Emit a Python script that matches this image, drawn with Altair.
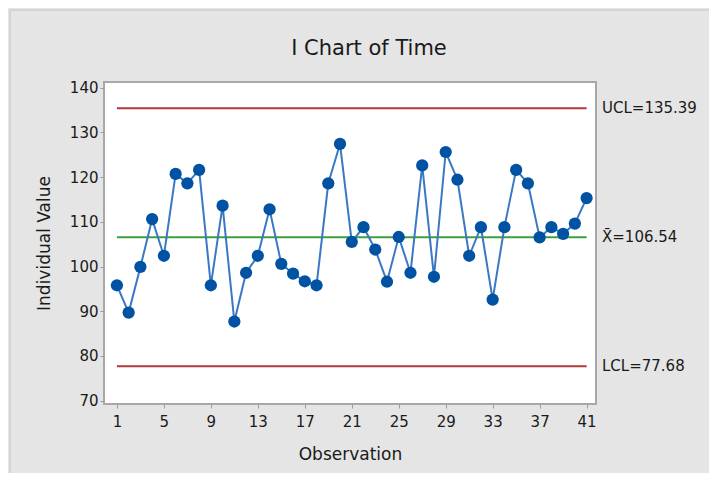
import altair as alt
import pandas as pd

observation = list(range(1, 42))
values = [95.8, 89.7, 99.9, 110.6, 102.4, 120.7, 118.6, 121.6, 95.8, 113.6,
          87.7, 98.6, 102.4, 112.8, 100.6, 98.4, 96.7, 95.8, 118.6, 127.4,
          105.5, 108.8, 103.8, 96.6, 106.6, 98.6, 122.6, 97.7, 125.6, 119.4,
          102.4, 108.8, 92.6, 108.8, 121.6, 118.6, 106.5, 108.8, 107.3, 109.6,
          115.3]
limit_values = [135.39, 106.54, 77.68]
limit_labels = ["UCL=135.39", "X\u0304=106.54", "LCL=77.68"]
limit_colors = ["#b03a3a", "#3ca03c", "#b03a3a"]
x_ticks = [1, 5, 9, 13, 17, 21, 25, 29, 33, 37, 41]
y_ticks = [70, 80, 90, 100, 110, 120, 130, 140]
title_text = "I Chart of Time"

df = pd.DataFrame({"obs": observation, "value": values})
lim = pd.DataFrame({"value": limit_values, "label": limit_labels,
                    "color": limit_colors, "x1": [1] * 3, "x2": [41] * 3})

FONT = "DejaVu Sans"
TXT = "#1a1a1a"

xscale = alt.Scale(domain=[-0.1, 41.8], nice=False, zero=False)
yscale = alt.Scale(domain=[69.26, 141.25], nice=False, zero=False)

xaxis = alt.Axis(values=x_ticks, title="Observation", grid=False, domain=False,
                 tickColor="#9a9a9a", tickSize=4, labelFontSize=15, labelFont=FONT,
                 labelColor=TXT, labelPadding=6, titleFont=FONT, titleFontSize=17,
                 titleFontWeight="normal", titleColor=TXT, titlePadding=17)
yaxis = alt.Axis(values=y_ticks, title="Individual Value", grid=False, domain=False,
                 tickColor="#9a9a9a", tickSize=4, labelFontSize=15, labelFont=FONT,
                 labelColor=TXT, labelPadding=2, titleFont=FONT, titleFontSize=17,
                 titleFontWeight="normal", titleColor=TXT, titlePadding=16)

rules = alt.Chart(lim).mark_rule(strokeWidth=2).encode(
    x=alt.X("x1:Q", scale=xscale, axis=xaxis),
    x2="x2:Q",
    y=alt.Y("value:Q", scale=yscale, axis=yaxis),
    color=alt.Color("color:N", scale=None),
)

line = alt.Chart(df).mark_line(color="#3b78c4", strokeWidth=2).encode(
    x=alt.X("obs:Q", scale=xscale, axis=xaxis),
    y=alt.Y("value:Q", scale=yscale, axis=yaxis),
)

points = alt.Chart(df).mark_point(filled=True, shape="circle", size=150,
                                  color="#0052a3", opacity=1).encode(
    x=alt.X("obs:Q", scale=xscale),
    y=alt.Y("value:Q", scale=yscale),
)

labels = alt.Chart(lim).mark_text(align="left", baseline="middle", font=FONT,
                                  fontSize=15, color=TXT).encode(
    x=alt.value(498),
    y=alt.Y("value:Q", scale=yscale),
    text="label:N",
)

title = alt.Chart(pd.DataFrame({"t": [title_text]})).mark_text(
    align="center", baseline="alphabetic", font=FONT, fontSize=21, color=TXT).encode(
    x=alt.value(265), y=alt.value(-27), text="t:N")

border = alt.Chart(pd.DataFrame({"a": [0]})).mark_rect(
    fillOpacity=0, stroke="#c4c4c4", strokeWidth=1).encode(
    x=alt.value(-94), y=alt.value(-72), x2=alt.value(800), y2=alt.value(600))

chart = alt.layer(border, rules, line, points, labels, title).properties(
    width=492, height=322,
    padding={"left": 96, "top": 74, "right": 113, "bottom": 69},
    autosize=alt.AutoSizeParams(type="none"),
    background="#e5e5e5",
).configure_view(stroke="#a8a8a8", strokeWidth=2, fill="white")

chart.save("out.html", embed_options={"renderer": "svg", "actions": False})
